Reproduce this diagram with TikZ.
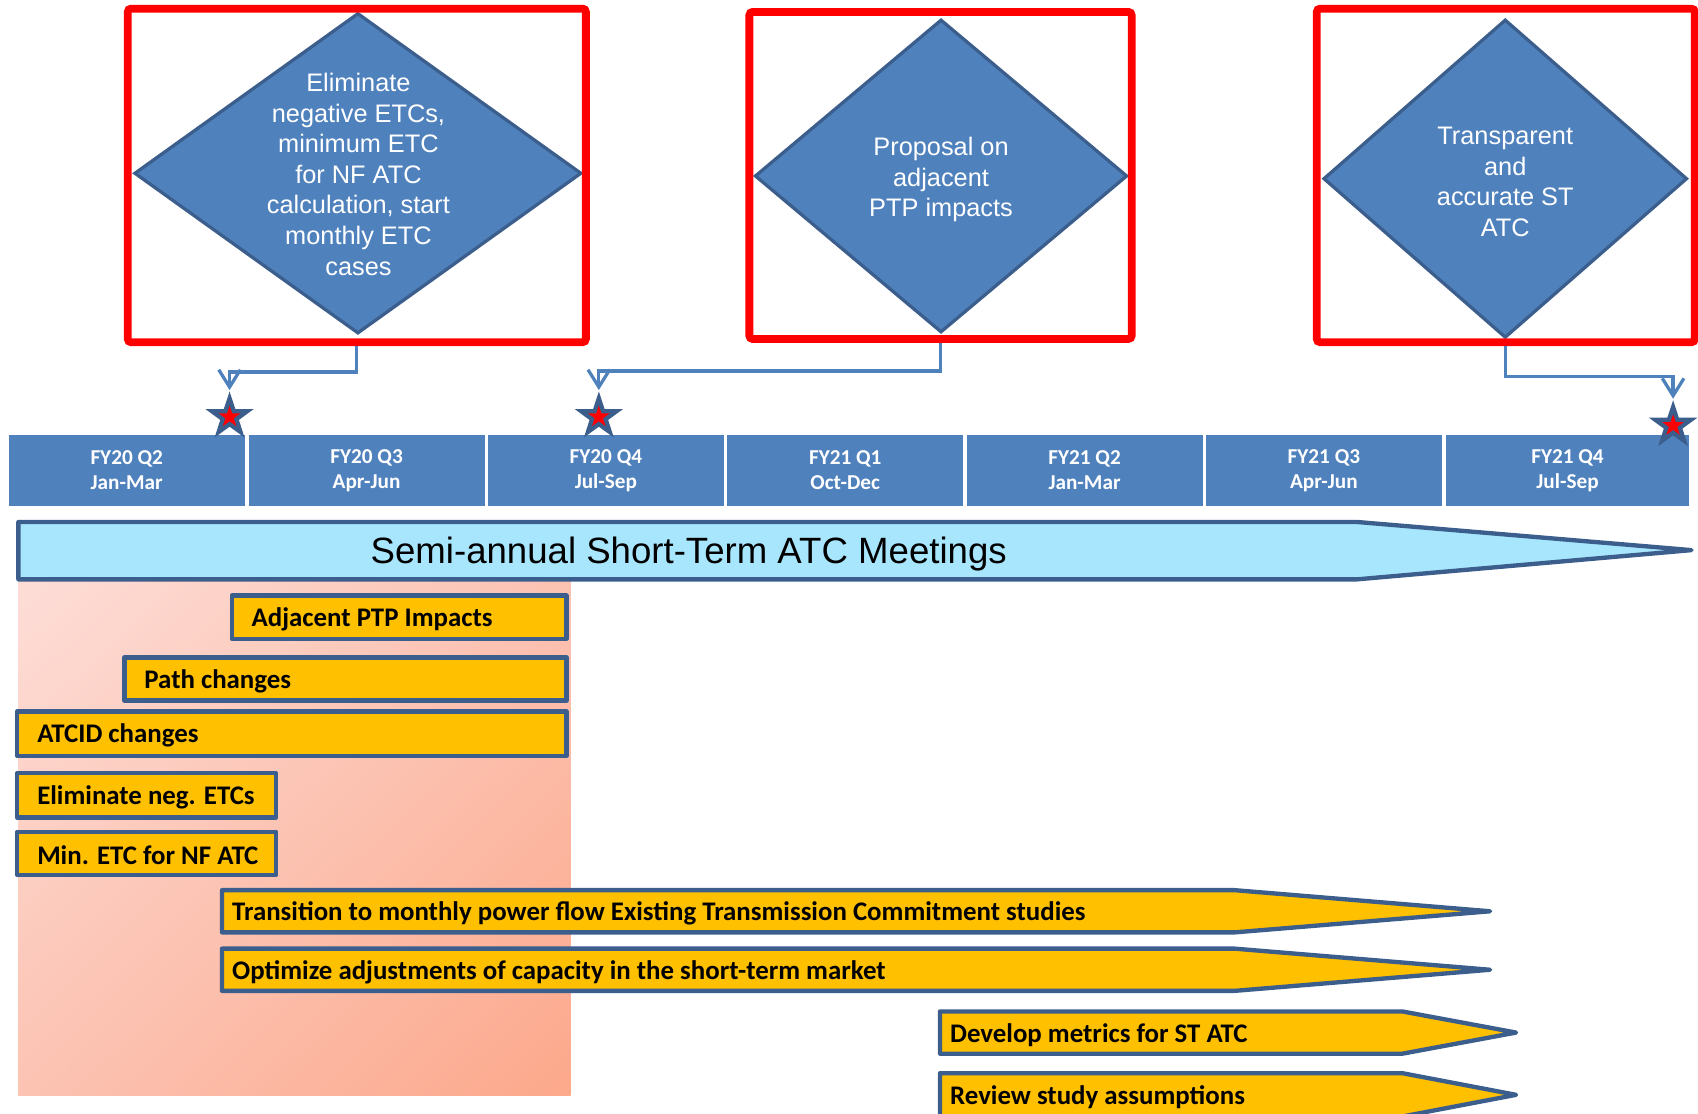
\documentclass[tikz,border=0pt]{standalone}
\usepackage{fontspec}
\setmainfont{Liberation Sans}
\newfontfamily\calfont{Carlito}
\usepackage{tikz}
\usetikzlibrary{shapes.geometric, arrows.meta, shadings}
\definecolor{ribbonred}{HTML}{FF0000}
\definecolor{chartblue}{HTML}{4F81BD}
\definecolor{edgeblue}{HTML}{3B5E8C}
\definecolor{taskorange}{HTML}{FFC000}
\definecolor{meetcyan}{HTML}{A8E6FD}
\definecolor{pinkA}{HTML}{FDDED8}
\definecolor{pinkB}{HTML}{FCC3B3}
\definecolor{pinkC}{HTML}{FCA88B}

\begin{document}
\begin{tikzpicture}[x=0.5pt, y=-0.5pt,
      frame/.style={draw=ribbonred, line width=3.6pt, rounded corners=1.5pt, inner sep=0pt},
      goal/.style={diamond, fill=chartblue, draw=edgeblue, line width=1.5pt, inner sep=0pt},
      goaltext/.style={text=white, align=center, inner sep=0pt,
        font=\fontsize{11.7pt}{14.1pt}\selectfont},
      link/.style={draw=chartblue, line width=1.5pt, -{Straight Barb[length=8pt,width=10pt]}},
      bigstar/.style={star, star points=5, star point ratio=2.6, fill=edgeblue,
        minimum size=23.5pt, inner sep=0pt},
      redstar/.style={star, star points=5, star point ratio=2.6, fill=ribbonred,
        minimum size=10.5pt, inner sep=0pt},
      quarter/.style={fill=chartblue, minimum height=32.5pt, inner sep=0pt, text=white,
        align=center, font=\calfont\bfseries\fontsize{9.8pt}{11.5pt}\selectfont},
      task/.style={fill=taskorange, draw=edgeblue, line width=2pt, line join=round},
      tasktext/.style={anchor=west, inner sep=0pt,
        font=\calfont\bfseries\fontsize{12.4pt}{14pt}\selectfont}
    ]
    \useasboundingbox (0,0) rectangle (1568,1028);

    % goals
    \node[goal, minimum width=206.5pt, minimum height=148pt] (d1) at (330.5,160) {};
    \node[goal, minimum width=172pt, minimum height=144.5pt] (d2) at (869,162.5) {};
    \node[goal, minimum width=168pt, minimum height=147pt] (d3) at (1390,165) {};
    \node[goaltext] (d1t) at (331,161) {Eliminate\\negative ETCs,\\minimum ETC\\for NF ATC\\calculation, start\\monthly ETC\\cases};
    \node[goaltext] (d2t) at (869,166) {Proposal on\\adjacent\\PTP impacts};
    \node[goaltext] (d3t) at (1390,168) {Transparent\\and\\accurate ST\\ATC};
    \node[frame, minimum width=211.5pt, minimum height=154pt] (f1) at (329.5,162) {};
    \node[frame, minimum width=176.5pt, minimum height=151pt] (f2) at (868.5,162) {};
    \node[frame, minimum width=174.5pt, minimum height=154pt] (f3) at (1390.5,162) {};

    % quarters
    \foreach \x/\w/\fy/\mo [count=\i] in {117/109/FY20 Q2/Jan-Mar, 338.5/109/FY20 Q3/Apr-Jun,
        559.5/109/FY20 Q4/Jul-Sep, 780.5/109/FY21 Q1/Oct-Dec, 1001.5/109/FY21 Q2/Jan-Mar,
        1222.5/109/FY21 Q3/Apr-Jun, 1447.5/112.5/FY21 Q4/Jul-Sep}
      \node[quarter, minimum width=\w pt] (q\i) at (\x,434.5) {\fy\\\mo};

    % milestones
    \node[bigstar] (s1) at (212,385) {};
    \node[bigstar] (s2) at (553,385) {};
    \node[bigstar] (s3) at (1545,393) {};
    \foreach \s in {s1,s2,s3}
      \node[redstar] at (\s) {};
    \draw[link] (f1.south) -- ++(0,24) -| (s1.north);
    \draw[link] (f2.south) -- ++(0,26) -| (s2.north);
    \draw[link] (f3.south) -- ++(0,28) -| (s3.north);

    % meetings
    \shade[upper left=pinkA, upper right=pinkB, lower left=pinkB, lower right=pinkC]
      (17,520) rectangle (527,1012);
    \draw[fill=meetcyan, draw=edgeblue, line width=2pt, line join=round]
      (17,482) -- (1253,482) -- (1562,508) -- (1253,535) -- (17,535) -- cycle;
    \node[font=\fontsize{16.9pt}{20pt}\selectfont] (meet) at (636,512) {Semi-annual Short-Term ATC Meetings};

    % tasks
    \foreach \xa/\xb/\ya/\yb/\txt [count=\i] in {214/523/550/590/Adjacent PTP Impacts,
        115/523/607/647/Path changes, 16/523/657/698/ATCID changes,
        16/255/714/755/Eliminate neg. ETCs, 16/255/768/808/Min. ETC for NF ATC}
    {
      \draw[task] (\xa,\ya) rectangle (\xb,\yb);
      \node[tasktext] (t\i) at (\xa+18,{(\ya+\yb)/2+2}) {\txt};
    }
    \foreach \xa/\xb/\xt/\ya/\yb/\txt [count=\i] in {
        205/1140/1376/822/861/Transition to monthly power flow Existing Transmission Commitment studies,
        205/1140/1376/876/915/Optimize adjustments of capacity in the short-term market,
        868/1295/1400/934/973/Develop metrics for ST ATC,
        868/1295/1400/991/1031/Review study assumptions}
    {
      \draw[task] (\xa,\ya) -- (\xb,\ya) -- (\xt,{(\ya+\yb)/2}) -- (\xb,\yb) -- (\xa,\yb) -- cycle;
      \node[tasktext] (p\i) at (\xa+9,{(\ya+\yb)/2+2}) {\txt};
    }
\end{tikzpicture}
\end{document}
